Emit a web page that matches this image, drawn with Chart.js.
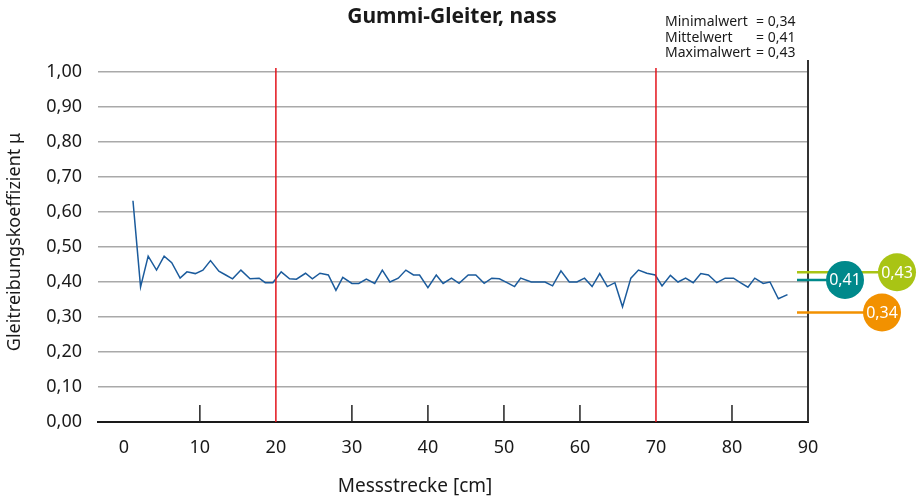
<!DOCTYPE html>
<html lang="de">
<head>
<meta charset="utf-8">
<title>Gummi-Gleiter, nass</title>
<script src="https://cdn.jsdelivr.net/npm/chart.js@4.4.1/dist/chart.umd.min.js"></script>
<style>
  html, body { margin: 0; padding: 0; background: #fff; }
  #wrap { width: 921px; height: 499px; }
</style>
</head>
<body>
<div id="wrap"><canvas id="chart" width="921" height="499"></canvas></div>
<script>
// Messpunkte (cm) und Gleitreibungskoeffizient
const positionsCm = [
  1.2, 2.2, 3.2, 4.3, 5.3, 6.3, 7.4, 8.3, 9.4, 10.4,
  11.4, 12.5, 13.4, 14.3, 15.4, 16.6, 17.8, 18.6, 19.6, 20.7,
  21.8, 22.7, 23.9, 24.8, 25.8, 26.9, 27.9, 28.8, 30.0, 30.9,
  31.9, 33.0, 34.0, 35.0, 36.1, 37.1, 38.1, 38.9, 40.0, 41.1,
  42.0, 43.1, 44.1, 45.3, 46.3, 47.4, 48.4, 49.4, 50.4, 51.4,
  52.2, 53.6, 54.5, 55.4, 56.4, 57.5, 58.6, 59.6, 60.6, 61.6,
  62.6, 63.6, 64.6, 65.6, 66.7, 67.7, 68.8, 69.9, 70.8, 71.9,
  72.9, 73.9, 74.9, 75.9, 76.9, 78.0, 79.1, 80.2, 81.1, 82.1,
  83.0, 84.1, 85.0, 86.1, 87.3
];
const frictionValues = [
  0.632, 0.386, 0.474, 0.434, 0.474, 0.455, 0.411, 0.429, 0.424, 0.434,
  0.461, 0.431, 0.420, 0.409, 0.434, 0.409, 0.411, 0.398, 0.398, 0.429,
  0.409, 0.408, 0.425, 0.409, 0.425, 0.420, 0.376, 0.413, 0.396, 0.396,
  0.408, 0.396, 0.434, 0.400, 0.411, 0.434, 0.420, 0.420, 0.384, 0.420,
  0.396, 0.411, 0.396, 0.420, 0.420, 0.396, 0.411, 0.409, 0.398, 0.387,
  0.411, 0.400, 0.400, 0.400, 0.389, 0.432, 0.400, 0.400, 0.411, 0.387,
  0.424, 0.387, 0.398, 0.329, 0.411, 0.434, 0.425, 0.420, 0.389, 0.419,
  0.400, 0.411, 0.398, 0.424, 0.420, 0.398, 0.411, 0.411, 0.398, 0.385,
  0.411, 0.396, 0.400, 0.352, 0.364
];

const xTickValues = [0, 10, 20, 30, 40, 50, 60, 70, 80, 90];
const yTickValues = [0, 0.1, 0.2, 0.3, 0.4, 0.5, 0.6, 0.7, 0.8, 0.9, 1.0];
const shortTickCm = [10, 30, 40, 50, 60, 80];
const redLineCm = [20, 70];

const statLabels = ['Minimalwert', 'Mittelwert', 'Maximalwert'];
const statValues = ['0,34', '0,41', '0,43'];

// Marker rechts: Beschriftung, Höhe der Linie, Farbe
const markerLabels = ['0,43', '0,41', '0,34'];
const markerLevels = [0.428, 0.406, 0.313];
const markerColors = ['#a9c414', '#00898b', '#f29100'];

const FONT = '"Noto Sans", "Open Sans", sans-serif';

const decorations = {
  id: 'decorations',
  afterDatasetsDraw(chart) {
    const { ctx, chartArea, scales } = chart;
    const { x } = scales;
    ctx.save();

    // kurze Striche an der x-Achse
    ctx.strokeStyle = '#222';
    ctx.lineWidth = 1.5;
    shortTickCm.forEach((v) => {
      const px = x.getPixelForValue(v);
      ctx.beginPath();
      ctx.moveTo(px, chartArea.bottom);
      ctx.lineTo(px, chartArea.bottom - 17);
      ctx.stroke();
    });

    // rote Linien
    ctx.strokeStyle = '#e3141c';
    ctx.lineWidth = 1.5;
    redLineCm.forEach((v) => {
      const px = x.getPixelForValue(v);
      ctx.beginPath();
      ctx.moveTo(px, chartArea.top - 4);
      ctx.lineTo(px, chartArea.bottom);
      ctx.stroke();
    });

    // rechte Achse
    ctx.strokeStyle = '#333';
    ctx.lineWidth = 2;
    ctx.beginPath();
    ctx.moveTo(chartArea.right, chartArea.top - 12);
    ctx.lineTo(chartArea.right, chartArea.bottom);
    ctx.stroke();
    ctx.restore();
  },
  afterDraw(chart) {
    const { ctx, chartArea, scales } = chart;
    const { y } = scales;
    ctx.save();

    // Marker
    const circleX = [chartArea.right + 89, chartArea.right + 37, chartArea.right + 74];
    ctx.lineWidth = 2.5;
    markerLevels.forEach((level, i) => {
      const py = y.getPixelForValue(level);
      ctx.strokeStyle = markerColors[i];
      ctx.beginPath();
      ctx.moveTo(chartArea.right - 11, py);
      ctx.lineTo(circleX[i], py);
      ctx.stroke();
    });
    markerLevels.forEach((level, i) => {
      const py = y.getPixelForValue(level);
      ctx.fillStyle = markerColors[i];
      ctx.beginPath();
      ctx.arc(circleX[i], py, 19, 0, Math.PI * 2);
      ctx.fill();
      ctx.fillStyle = '#fff';
      ctx.font = '16px ' + FONT;
      ctx.textAlign = 'center';
      ctx.textBaseline = 'middle';
      ctx.fillText(markerLabels[i], circleX[i], py + 1);
    });

    ctx.fillStyle = '#1a1a1a';

    // Titel
    ctx.font = 'bold 21px ' + FONT;
    ctx.textAlign = 'center';
    ctx.textBaseline = 'middle';
    ctx.fillText('Gummi-Gleiter, nass', 452, 17);

    // Kennwerte
    ctx.font = '14px ' + FONT;
    ctx.textBaseline = 'alphabetic';
    statLabels.forEach((label, i) => {
      const baseline = 26 + i * 15.5;
      ctx.textAlign = 'left';
      ctx.fillText(label, 665, baseline);
      ctx.fillText('= ' + statValues[i], 756, baseline);
    });

    // Achsentitel
    ctx.font = '19px ' + FONT;
    ctx.textAlign = 'center';
    ctx.textBaseline = 'middle';
    ctx.fillText('Messstrecke [cm]', 415, 487);
    ctx.font = '18px ' + FONT;
    ctx.translate(15, 242);
    ctx.rotate(-Math.PI / 2);
    ctx.fillText('Gleitreibungskoeffizient \u03bc', 0, 0);
    ctx.restore();
  }
};

new Chart(document.getElementById('chart'), {
  type: 'line',
  data: {
    datasets: [
      {
        data: positionsCm.map((cm, i) => ({ x: cm, y: frictionValues[i] })),
        borderColor: '#1b5b9c',
        borderWidth: 1.5,
        pointRadius: 0,
        tension: 0,
      },
    ],
  },
  options: {
    responsive: false,
    animation: false,
    layout: {
      padding: { top: 72, right: 113, left: 0, bottom: 0 },
    },
    plugins: {
      legend: { display: false },
      tooltip: { enabled: false },
    },
    scales: {
      x: {
        type: 'linear',
        min: -3.4,
        max: 90,
        afterBuildTicks(scale) {
          scale.ticks = xTickValues.map((value) => ({ value }));
        },
        afterFit(scale) {
          scale.height = 77;
        },
        ticks: {
          color: '#1a1a1a',
          font: { family: FONT, size: 18 },
          padding: 15,
          maxRotation: 0,
          callback: (value) => String(value),
        },
        grid: { display: false, drawTicks: false },
        border: { display: true, color: '#1a1a1a', width: 2 },
      },
      y: {
        min: 0,
        max: 1,
        afterBuildTicks(scale) {
          scale.ticks = yTickValues.map((value) => ({ value }));
        },
        afterFit(scale) {
          scale.width = 98;
        },
        ticks: {
          color: '#1a1a1a',
          font: { family: FONT, size: 18 },
          padding: 16,
          callback: (value) => value.toFixed(2).replace('.', ','),
        },
        grid: {
          drawTicks: false,
          color: (context) => (context.tick && context.tick.value === 0 ? 'rgba(0,0,0,0)' : '#a9a9a9'),
          lineWidth: 1.5,
        },
        border: { display: false },
      },
    },
  },
  plugins: [decorations],
});
</script>
</body>
</html>
